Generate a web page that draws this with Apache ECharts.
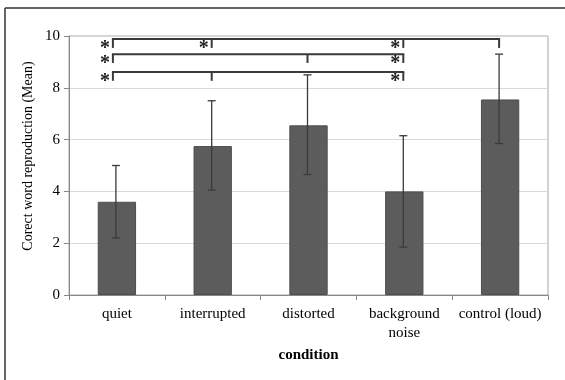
<!DOCTYPE html>
<html>
<head>
<meta charset="utf-8">
<script src="https://cdn.jsdelivr.net/npm/echarts@6/dist/echarts.min.js"></script>
<style>
  html, body { margin: 0; padding: 0; background: #fff; }
  #chart { width: 565px; height: 380px; }
</style>
</head>
<body>
<div id="chart"></div>
<script>
// Mean correct word reproduction per listening condition, with error bars
const categories = ['quiet', 'interrupted', 'distorted', 'background\nnoise', 'control (loud)'];
const means = [3.6, 5.75, 6.55, 4.0, 7.55];
const errLow = [2.2, 4.05, 4.65, 1.85, 5.85];
const errHigh = [5.0, 7.5, 8.5, 6.15, 9.3];
const yTicks = { min: 0, max: 10, interval: 2 };
const yTitle = 'Corect word reproduction (Mean)';

// Significance brackets: horizontal span, level, tick positions and starred ticks
const bracketSpans = [[0, 4], [0, 3], [0, 3]];
const bracketLevels = [9.88, 9.3, 8.61];
const bracketDrop = 0.34;
const bracketTicks = [[0, 1, 3, 4], [0, 2, 3], [0, 1, 3]];
const bracketStars = [[0, 1, 3], [0, 3], [0, 3]];

const FONT = '"Liberation Serif", "Times New Roman", serif';
const INK = '#3a3a3a';

function tickOffset(i) { return i === 0 ? -4 : -1; }

const errorData = means.map((m, i) => [i, errLow[i], errHigh[i]]);
const bracketData = bracketLevels.map((lv, r) => [r, lv]);

const chart = echarts.init(document.getElementById('chart'), null, { renderer: 'canvas' });

chart.setOption({
  animation: false,
  backgroundColor: '#fff',
  grid: {
    left: 69, right: 17, top: 36, bottom: 85,
    show: true, borderColor: '#a6a6a6', borderWidth: 1
  },
  graphic: [
    { type: 'line', shape: { x1: 5, y1: 8, x2: 565, y2: 8 }, style: { stroke: '#333', lineWidth: 1.5 } },
    { type: 'line', shape: { x1: 5, y1: 8, x2: 5, y2: 380 }, style: { stroke: '#333', lineWidth: 1.5 } },
    {
      type: 'text', x: 28, y: 156, rotation: Math.PI / 2,
      style: {
        text: yTitle, fontFamily: FONT, fontSize: 14, fill: '#000',
        align: 'center', verticalAlign: 'middle'
      }
    }
  ],
  xAxis: {
    type: 'category',
    data: categories,
    name: 'condition',
    nameLocation: 'middle',
    nameGap: 52,
    nameTextStyle: { fontFamily: FONT, fontSize: 15, fontWeight: 'bold', color: '#000' },
    axisLine: { lineStyle: { color: '#888' } },
    axisTick: { show: true, alignWithLabel: false, length: 5, lineStyle: { color: '#888' } },
    axisLabel: { fontFamily: FONT, fontSize: 15, color: '#000', margin: 10, lineHeight: 19, interval: 0 },
    splitLine: { show: false }
  },
  yAxis: {
    type: 'value',
    min: yTicks.min, max: yTicks.max, interval: yTicks.interval,
    axisLine: { show: true, lineStyle: { color: '#888' } },
    axisTick: { show: true, length: 5, lineStyle: { color: '#888' } },
    axisLabel: { fontFamily: FONT, fontSize: 15, color: '#000', margin: 9 },
    splitLine: { lineStyle: { color: '#d9d9d9' } }
  },
  series: [
    {
      type: 'bar',
      data: means,
      barCategoryGap: '60%',
      itemStyle: { color: '#5c5c5c', borderColor: '#4d4d4d', borderWidth: 1 },
      z: 2
    },
    {
      type: 'custom',
      data: errorData,
      z: 3,
      renderItem(params, api) {
        const x = api.value(0);
        const lo = api.coord([x, api.value(1)]);
        const hi = api.coord([x, api.value(2)]);
        const cx = lo[0] - 1;
        const cap = 4;
        const style = { stroke: INK, lineWidth: 1.3 };
        return {
          type: 'group',
          children: [
            { type: 'line', shape: { x1: cx, y1: hi[1], x2: cx, y2: lo[1] }, style },
            { type: 'line', shape: { x1: cx - cap, y1: hi[1], x2: cx + cap, y2: hi[1] }, style },
            { type: 'line', shape: { x1: cx - cap, y1: lo[1], x2: cx + cap, y2: lo[1] }, style }
          ]
        };
      }
    },
    {
      type: 'custom',
      data: bracketData,
      z: 4,
      renderItem(params, api) {
        const r = api.value(0);
        const lv = api.value(1);
        const span = bracketSpans[r];
        const style = { stroke: INK, lineWidth: 2 };
        const children = [];
        const left = api.coord([span[0], lv]);
        const right = api.coord([span[1], lv]);
        const y = left[1];
        const yDrop = api.coord([span[0], lv - bracketDrop])[1];
        children.push({ type: 'line', shape: { x1: left[0] + tickOffset(span[0]) - 1, y1: y, x2: right[0] + tickOffset(span[1]) + 1, y2: y }, style });
        bracketTicks[r].forEach(c => {
          const px = api.coord([c, lv])[0] + tickOffset(c);
          children.push({ type: 'line', shape: { x1: px, y1: y, x2: px, y2: yDrop }, style });
        });
        bracketStars[r].forEach(c => {
          const px = api.coord([c, lv])[0] + tickOffset(c);
          children.push({
            type: 'text',
            style: {
              text: '*', x: px - 8, y: y + 10,
              fontFamily: FONT, fontSize: 20, fontWeight: 'bold', fill: '#222',
              align: 'center', verticalAlign: 'middle'
            }
          });
        });
        return { type: 'group', children };
      }
    }
  ]
});
</script>
</body>
</html>
